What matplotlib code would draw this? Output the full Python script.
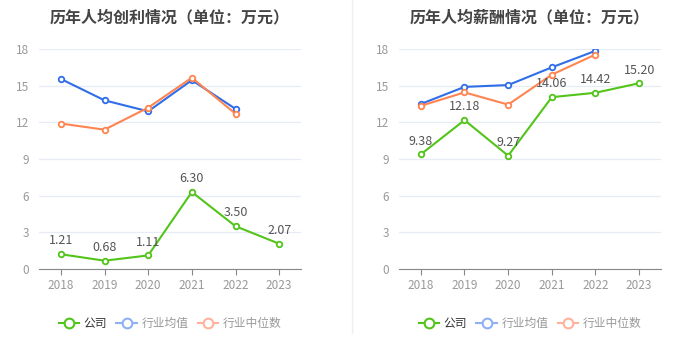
import matplotlib.pyplot as plt
from matplotlib.lines import Line2D

plt.rcParams['font.family'] = ['Noto Sans CJK SC', 'DejaVu Sans']

years = ['2018', '2019', '2020', '2021', '2022', '2023']

# per-capita profit (left)
profit_company = [1.21, 0.68, 1.11, 6.30, 3.50, 2.07]
profit_avg = [15.55, 13.8, 12.9, 15.45, 13.1]
profit_median = [11.9, 11.4, 13.2, 15.65, 12.7]

# per-capita salary (right)
salary_company = [9.38, 12.18, 9.27, 14.06, 14.42, 15.20]
salary_avg = [13.5, 14.9, 15.05, 16.5, 17.85]
salary_median = [13.35, 14.45, 13.45, 15.9, 17.55]

green = '#52c41a'
blue = '#2f6ee8'
orange = '#ff8450'
blue_light = '#8fb0f3'
orange_light = '#ffb299'

fig = plt.figure(figsize=(7, 3.59), dpi=100)


def draw(ax, title, company, avg, median):
    x = list(range(len(years)))
    for vals, c in ((avg, blue), (median, orange), (company, green)):
        ax.plot(x[:len(vals)], vals, color=c, lw=1.5, marker='o', ms=4,
                mfc='white', mew=1.3, zorder=3)
    for i, v in enumerate(company):
        ax.text(i, v + 0.55, f'{v:.2f}', ha='center', va='bottom',
                fontsize=9, color='#555555', zorder=4)
    ax.set_xlim(-0.5, 5.5)
    ax.set_ylim(0, 18)
    ax.set_yticks([0, 3, 6, 9, 12, 15, 18])
    ax.set_xticks(x)
    ax.set_xticklabels(years)
    ax.grid(axis='y', color='#e6ebf5', lw=0.9)
    ax.set_axisbelow(True)
    for s in ('top', 'right', 'left'):
        ax.spines[s].set_visible(False)
    ax.spines['bottom'].set_color('#888888')
    ax.tick_params(axis='y', length=0, labelsize=8.5, colors='#999999', pad=7)
    ax.tick_params(axis='x', length=4, color='#888888', labelsize=8.5,
                   labelcolor='#999999', pad=3)
    ax.set_title(title, fontsize=11.5, fontweight='bold', color='#444444',
                 pad=19)
    handles = [
        Line2D([], [], color=green, lw=1.5, marker='o', ms=7, mfc='white', mew=1.5),
        Line2D([], [], color=blue_light, lw=1.5, marker='o', ms=7, mfc='white', mew=1.5),
        Line2D([], [], color=orange_light, lw=1.5, marker='o', ms=7, mfc='white', mew=1.5),
    ]
    leg = ax.legend(handles, ['公司', '行业均值', '行业中位数'], loc='upper center',
                    bbox_to_anchor=(0.5, -0.17), ncol=3, frameon=False,
                    fontsize=8.5, handlelength=1.7, columnspacing=0.8,
                    handletextpad=0.4)
    for t, c in zip(leg.get_texts(), ['#333333', '#999999', '#999999']):
        t.set_color(c)


ax1 = fig.add_axes([39 / 700, 90 / 359, 262 / 700, 220 / 359])
ax2 = fig.add_axes([399 / 700, 90 / 359, 262 / 700, 220 / 359])
draw(ax1, '历年人均创利情况（单位：万元）', profit_company, profit_avg, profit_median)
draw(ax2, '历年人均薪酬情况（单位：万元）', salary_company, salary_avg, salary_median)

fig.add_artist(Line2D([352 / 700, 352 / 700], [26 / 359, 1], color='#eeeeee', lw=1))

fig.savefig('out.png', dpi=100)
